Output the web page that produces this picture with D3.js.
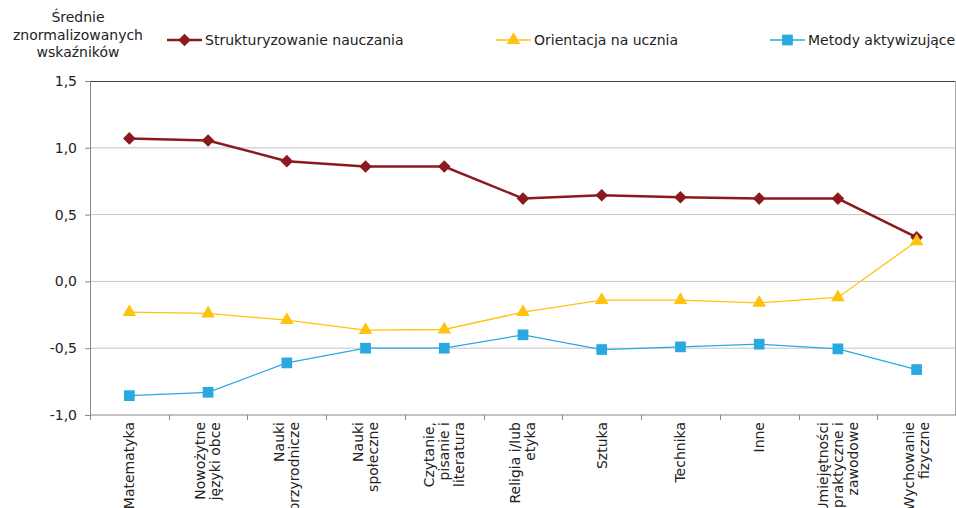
<!DOCTYPE html>
<html>
<head>
<meta charset="utf-8">
<script src="https://cdn.jsdelivr.net/npm/d3@7"></script>
<style>
  body { margin: 0; background: #fff; }
  text { font-family: "DejaVu Sans", Verdana, sans-serif; fill: #222; }
</style>
</head>
<body>
<div id="chart"></div>
<script>
const categories = [
  ["Matematyka"],
  ["Nowożytne", "języki obce"],
  ["Nauki", "przyrodnicze"],
  ["Nauki", "społeczne"],
  ["Czytanie,", "pisanie i", "literatura"],
  ["Religia i/lub", "etyka"],
  ["Sztuka"],
  ["Technika"],
  ["Inne"],
  ["Umiejętności", "praktyczne i", "zawodowe"],
  ["Wychowanie", "fizyczne"]
];
const struktur = [1.07, 1.055, 0.90, 0.86, 0.86, 0.62, 0.645, 0.63, 0.62, 0.62, 0.33];
const orient = [-0.23, -0.24, -0.29, -0.365, -0.36, -0.23, -0.14, -0.14, -0.16, -0.12, 0.30];
const metody = [-0.855, -0.83, -0.61, -0.50, -0.50, -0.40, -0.51, -0.49, -0.47, -0.505, -0.66];
const yTicks = [-1.0, -0.5, 0.0, 0.5, 1.0, 1.5];

const width = 956, height = 508;
const margin = { top: 81, right: 0, bottom: 93, left: 90 };
const innerWidth = width - margin.left - margin.right;
const innerHeight = height - margin.top - margin.bottom;
const fs = "14px";

const diamond = { draw(ctx, size) { const r = Math.sqrt(size / 2); ctx.moveTo(0, -r); ctx.lineTo(r, 0); ctx.lineTo(0, r); ctx.lineTo(-r, 0); ctx.closePath(); } };

const series = [
  { name: "Strukturyzowanie nauczania", values: struktur, color: "#8b1a1e", width: 2.5, symbol: diamond, size: 80, legendX: 167 },
  { name: "Orientacja na ucznia", values: orient, color: "#ffc20e", width: 1.3, symbol: d3.symbolTriangle, size: 80, legendX: 496 },
  { name: "Metody aktywizujące", values: metody, color: "#29a9e0", width: 1.3, symbol: d3.symbolSquare, size: 115, legendX: 770 }
];

const svg = d3.select("#chart").append("svg")
  .attr("width", width).attr("height", height);

const g = svg.append("g").attr("transform", `translate(${margin.left},${margin.top})`);

const x = d3.scaleBand().domain(d3.range(categories.length)).range([0, innerWidth]);
const y = d3.scaleLinear().domain([-1, 1.5]).range([innerHeight, 0]);
const fmt = d => d3.format(".1f")(d).replace(".", ",").replace("−", "-");

// gridlines
g.selectAll(".grid").data(yTicks.filter(d => d > -1 && d < 1.5)).join("line")
  .attr("x1", 0).attr("x2", innerWidth)
  .attr("y1", d => y(d)).attr("y2", d => y(d))
  .attr("stroke", "#c4c4c4").attr("stroke-width", 1);

// frame
g.append("line").attr("x1", 0).attr("x2", innerWidth).attr("y1", 0.5).attr("y2", 0.5)
  .attr("stroke", "#444").attr("stroke-width", 1.2);
g.append("line").attr("x1", innerWidth - 0.5).attr("x2", innerWidth - 0.5).attr("y1", 0).attr("y2", innerHeight)
  .attr("stroke", "#aaa");

// y axis
const yAxis = g.append("g")
  .call(d3.axisLeft(y).tickValues(yTicks).tickFormat(fmt).tickSize(5).tickPadding(8));
yAxis.select(".domain").attr("stroke", "#888");
yAxis.selectAll(".tick line").attr("stroke", "#888");
yAxis.selectAll("text").style("font-size", fs).attr("fill", "#222");

// x axis
const xAxis = g.append("g").attr("transform", `translate(0,${innerHeight})`);
xAxis.append("line").attr("x1", 0).attr("x2", innerWidth).attr("stroke", "#888");
xAxis.selectAll(".xt").data(d3.range(categories.length + 1)).join("line")
  .attr("x1", i => Math.round(i * x.bandwidth()) + 0.5).attr("x2", i => Math.round(i * x.bandwidth()) + 0.5)
  .attr("y1", 0).attr("y2", 5).attr("stroke", "#888");

const lineH = 15;
xAxis.selectAll(".xl").data(categories).join("g")
  .attr("transform", (d, i) => `translate(${x(i) + x.bandwidth() / 2},7) rotate(-90)`)
  .each(function (lines) {
    const n = lines.length;
    d3.select(this).selectAll("text").data(lines).join("text")
      .attr("x", 0)
      .attr("y", (t, j) => (j - (n - 1) / 2) * lineH)
      .attr("dy", "0.35em")
      .attr("text-anchor", "end")
      .style("font-size", fs)
      .text(t => t);
  });

// lines + markers
const line = d3.line().x((d, i) => x(i) + x.bandwidth() / 2).y(d => y(d));
series.forEach(s => {
  g.append("path").datum(s.values)
    .attr("d", line).attr("fill", "none")
    .attr("stroke", s.color).attr("stroke-width", s.width);
  g.selectAll(null).data(s.values).join("path")
    .attr("transform", (d, i) => `translate(${x(i) + x.bandwidth() / 2},${y(d)})`)
    .attr("d", d3.symbol().type(s.symbol).size(s.size))
    .attr("fill", s.color);
});

// legend
series.forEach(s => {
  const lg = svg.append("g").attr("transform", `translate(${s.legendX},40)`);
  lg.append("line").attr("x1", 0).attr("x2", 35).attr("stroke", s.color).attr("stroke-width", s.width);
  lg.append("path").attr("transform", "translate(17.5,0)")
    .attr("d", d3.symbol().type(s.symbol).size(s.size)).attr("fill", s.color);
  lg.append("text").attr("x", 38).attr("dy", "0.35em").style("font-size", fs).text(s.name);
});

// y title
svg.append("text").attr("x", 78).attr("y", 22).attr("text-anchor", "middle")
  .style("font-size", fs)
  .selectAll("tspan").data(["Średnie", "znormalizowanych", "wskaźników"]).join("tspan")
  .attr("x", 78).attr("dy", (d, i) => i === 0 ? 0 : 17.5).text(d => d);
</script>
</body>
</html>
